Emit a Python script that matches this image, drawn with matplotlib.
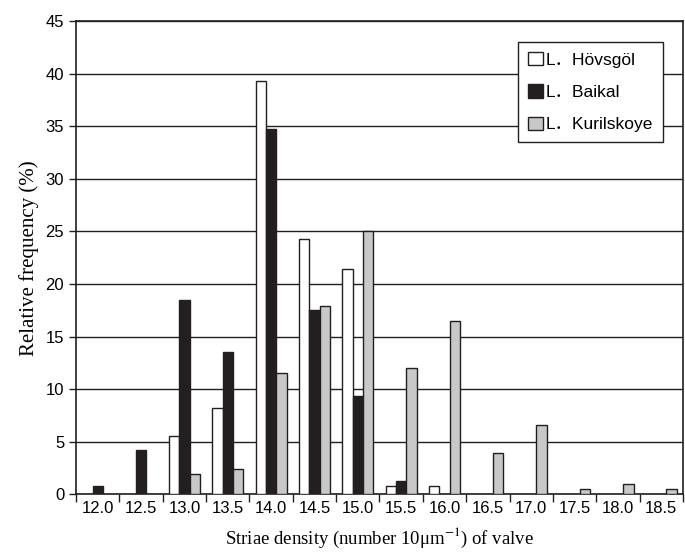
import numpy as np
import matplotlib
matplotlib.use("Agg")
import matplotlib.pyplot as plt
from matplotlib.patches import Patch

# Striae density classes and relative frequencies (%)
categories = ["12.0", "12.5", "13.0", "13.5", "14.0", "14.5", "15.0",
              "15.5", "16.0", "16.5", "17.0", "17.5", "18.0", "18.5"]
hovsgol = [0, 0, 5.5, 8.2, 39.3, 24.3, 21.4, 0.8, 0.8, 0, 0, 0, 0, 0]
baikal = [0.8, 4.2, 18.5, 13.5, 34.7, 17.5, 9.3, 1.3, 0, 0, 0, 0, 0, 0]
kurilskoye = [0, 0, 1.9, 2.4, 11.5, 17.9, 25.0, 12.0, 16.5, 3.9, 6.6, 0.5, 1.0, 0.5]
series_names = ["L．Hövsgöl", "L．Baikal", "L．Kurilskoye"]

plt.rcParams['font.family'] = ['Liberation Sans', 'Noto Sans CJK SC', 'DejaVu Sans']
plt.rcParams['mathtext.fontset'] = 'stix'

fig = plt.figure(figsize=(6.85, 5.56), dpi=100)
ax = fig.add_axes([0.111, 0.111, 0.886, 0.851])

x = np.arange(len(categories))
w = 0.24
colors = ["white", "#231f20", "#c8c8c8"]
for i, (vals, col) in enumerate(zip([hovsgol, baikal, kurilskoye], colors)):
    v = np.array(vals, dtype=float)
    mask = v > 0
    ax.bar(x[mask] + (i - 1) * w, v[mask], width=w, color=col,
           edgecolor="#231f20", linewidth=1.0, zorder=3)

ax.set_ylim(0, 45)
ax.set_xlim(-0.5, len(categories) - 0.5)
ax.set_yticks(np.arange(0, 46, 5))
ax.yaxis.grid(True, color="#231f20", linewidth=1.0, zorder=0)
ax.set_axisbelow(True)

# tick marks at class boundaries, labels at class centres
ax.set_xticks(np.arange(-0.5, len(categories), 1.0))
ax.set_xticklabels([])
ax.set_xticks(x, minor=True)
ax.set_xticklabels(categories, minor=True)
ax.tick_params(axis='x', which='major', direction='out', length=6, width=1.0, color="#231f20")
ax.tick_params(axis='x', which='minor', length=0, pad=5, labelsize=12)
ax.tick_params(axis='y', direction='out', length=5, width=1.0, labelsize=12, color="#231f20")

for s in ax.spines.values():
    s.set_color("#231f20")
    s.set_linewidth(1.2)

ax.set_ylabel("Relative frequency (%)", family="Liberation Serif", fontsize=15, labelpad=5)
ax.set_xlabel("Striae density (number 10μm$^{-1}$) of valve", family="Liberation Serif",
              fontsize=13.5, labelpad=7)

handles = [Patch(facecolor=c, edgecolor="#231f20", linewidth=1.0) for c in colors]
leg = ax.legend(handles, series_names, loc="upper right", bbox_to_anchor=(0.967, 0.955),
                borderaxespad=0, fancybox=False, framealpha=1, edgecolor="#231f20",
                fontsize=12.5, handlelength=0.86, handleheight=0.82, handletextpad=0.2,
                labelspacing=0.95, borderpad=0.55)
leg.get_frame().set_linewidth(1.0)

fig.savefig("out.png", dpi=100)
